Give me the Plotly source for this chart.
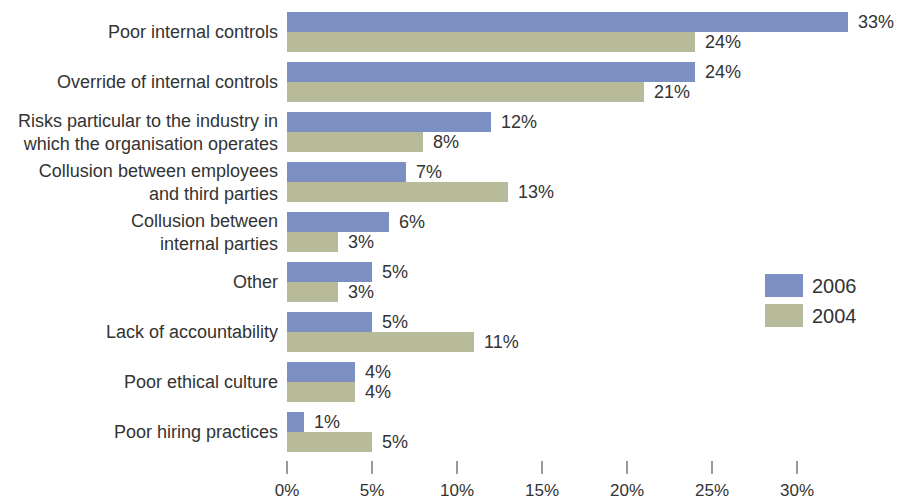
import plotly.graph_objects as go

# Fraud risk factors, share of respondents (%)
categories = [
    "Poor internal controls",
    "Override of internal controls",
    "Risks particular to the industry in<br>which the organisation operates",
    "Collusion between employees<br>and third parties",
    "Collusion between<br>internal parties",
    "Other",
    "Lack of accountability",
    "Poor ethical culture",
    "Poor hiring practices",
]
values_2006 = [33, 24, 12, 7, 6, 5, 5, 4, 1]
values_2004 = [24, 21, 8, 13, 3, 3, 11, 4, 5]
series_names = ["2006", "2004"]
x_ticks = [0, 5, 10, 15, 20, 25, 30]

colors = {"2006": "#7b8fc3", "2004": "#b8bb99"}
text_color = "#333333"
font_family = "Liberation Sans, Arial, sans-serif"

W, H = 901, 501
M = dict(l=287, r=19, t=7, b=41)
x_max = 35
n = len(categories)

fig = go.Figure()
for name, vals in zip(series_names, [values_2006, values_2004]):
    fig.add_trace(go.Bar(
        name=name,
        y=categories,
        x=vals,
        orientation="h",
        marker=dict(color=colors[name], line=dict(width=0)),
        offsetgroup=name,
        showlegend=False,
        hoverinfo="x+y",
    ))

# Value labels to the right of each bar
for gi, (name, vals) in enumerate(zip(series_names, [values_2006, values_2004])):
    for ci, v in enumerate(vals):
        # each category band is 0.8 wide, split between the two series
        ypos = ci + (-0.2 if gi == 0 else 0.2)
        fig.add_annotation(
            x=v, y=ypos, xref="x", yref="y",
            text=f"{v}%", showarrow=False,
            xanchor="left", yanchor="middle", xshift=8,
            font=dict(family=font_family, size=18, color=text_color),
        )

# Legend drawn as swatches and labels on the right
plot_w = W - M["l"] - M["r"]
plot_h = H - M["t"] - M["b"]
def px_x(p):
    return (p - M["l"]) / plot_w
def px_y(p):
    return 1 - (p - M["t"]) / plot_h

legend_rows = [(series_names[0], 274, 297), (series_names[1], 304, 327)]
for name, top, bottom in legend_rows:
    fig.add_shape(
        type="rect", xref="paper", yref="paper",
        x0=px_x(765), x1=px_x(803), y0=px_y(bottom), y1=px_y(top),
        fillcolor=colors[name], line=dict(width=0),
    )
    fig.add_annotation(
        xref="paper", yref="paper",
        x=px_x(810), y=px_y((top + bottom) / 2),
        text=name, showarrow=False, xanchor="left", yanchor="middle",
        font=dict(family=font_family, size=20, color=text_color),
    )

# 50 px per category band; the axis sits a little below the last band
band_px = 50
y_span = plot_h / band_px

fig.update_layout(
    width=W, height=H,
    margin=M,
    barmode="group",
    bargap=0.2,
    bargroupgap=0,
    plot_bgcolor="white",
    paper_bgcolor="white",
    font=dict(family=font_family, size=18, color=text_color),
)
fig.update_xaxes(
    range=[0, x_max],
    tickvals=x_ticks,
    ticktext=[f"{t}%" for t in x_ticks],
    ticks="outside", ticklen=13, tickwidth=1.5, tickcolor="#9a9a9a",
    ticklabelstandoff=2,
    showgrid=False, zeroline=False, showline=False,
    tickfont=dict(size=17, color=text_color),
    automargin=False,
)
fig.update_yaxes(
    range=[-0.5 + y_span, -0.5],
    showgrid=False, zeroline=False, showline=False,
    ticks="", ticklabelstandoff=8,
    tickfont=dict(size=18, color=text_color),
    automargin=False,
)

fig.write_html("out.html")
